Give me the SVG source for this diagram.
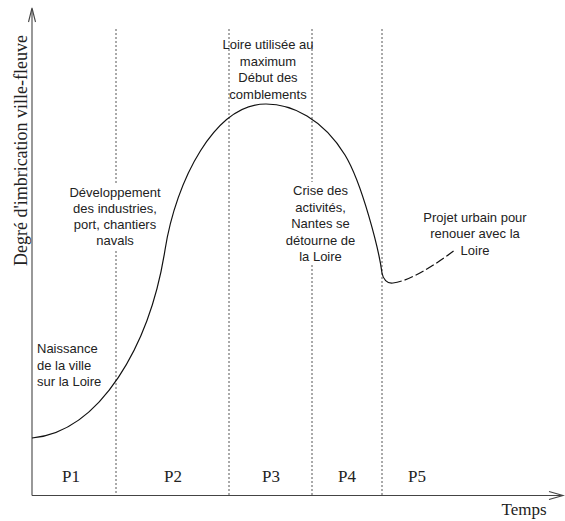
<svg xmlns="http://www.w3.org/2000/svg" width="565" height="521" viewBox="0 0 565 521">
<style>
.axis{stroke:#444;stroke-width:1.1;fill:none}
.head{stroke:#444;stroke-width:1.1;fill:none}
.div{stroke:#555;stroke-width:1;stroke-dasharray:2,2;fill:none}
.curve{stroke:#111;stroke-width:1.2;fill:none}
.dash{stroke:#111;stroke-width:1.2;fill:none;stroke-dasharray:9,3}
.lbl{font-family:"Liberation Sans",Arial,sans-serif;font-size:13px;fill:#222;text-anchor:middle}
.ser{font-family:"Liberation Serif","Times New Roman",serif;font-size:17px;fill:#222;text-anchor:middle}
</style>
<rect width="565" height="521" fill="#fff"/>
<g id="axes">
<line class="axis" x1="32" y1="495.5" x2="32" y2="9"/>
<polyline class="head" points="28.5,22 32,8 35.5,22"/>
<line class="axis" x1="32" y1="495.5" x2="562" y2="495.5"/>
<polyline class="head" points="549,491.5 563,495.5 549,499.5"/>
<text class="ser" transform="translate(27,150.5) rotate(-90)" style="font-size:18px">Degré d'imbrication ville-fleuve</text>
<text class="ser" x="524" y="515">Temps</text>
</g>
<g id="dividers">
<line class="div" x1="116" y1="29" x2="116" y2="183"/>
<line class="div" x1="116" y1="251" x2="116" y2="495"/>
<line class="div" x1="229" y1="29" x2="229" y2="495"/>
<line class="div" x1="312" y1="29" x2="312" y2="182"/>
<line class="div" x1="312" y1="265" x2="312" y2="495"/>
<line class="div" x1="382" y1="29" x2="382" y2="495"/>
</g>
<g id="periods">
<text class="ser" x="71" y="482">P1</text>
<text class="ser" x="173" y="482">P2</text>
<text class="ser" x="271" y="482">P3</text>
<text class="ser" x="347" y="482">P4</text>
<text class="ser" x="417" y="482">P5</text>
</g>
<g id="curve">
<path class="curve" d="M32,438 C100,432 150,345 165,250 C176,180 215,104 266,104 C292,104 323,119 345,155 C362,183 379,250 382,273 C383,279 387,284 393,283"/>
<path class="dash" d="M393,283 C410,281 435,265 455,250"/>
</g>
<g id="label-p1">
<text class="lbl" style="text-anchor:start" x="37" y="353">Naissance</text>
<text class="lbl" style="text-anchor:start" x="37" y="370">de la ville</text>
<text class="lbl" style="text-anchor:start" x="37" y="386">sur la Loire</text>
</g>
<g id="label-p2">
<text class="lbl" x="115" y="197">Développement</text>
<text class="lbl" x="115" y="213">des industries,</text>
<text class="lbl" x="115" y="229">port, chantiers</text>
<text class="lbl" x="115" y="245">navals</text>
</g>
<g id="label-p3">
<text class="lbl" x="268" y="49">Loire utilisée au</text>
<text class="lbl" x="268" y="65.5">maximum</text>
<text class="lbl" x="268" y="82">Début des</text>
<text class="lbl" x="268" y="98.5">comblements</text>
</g>
<g id="label-p4">
<text class="lbl" x="320.5" y="195">Crise des</text>
<text class="lbl" x="320.5" y="211.5">activités,</text>
<text class="lbl" x="320.5" y="228">Nantes se</text>
<text class="lbl" x="320.5" y="244.5">détourne de</text>
<text class="lbl" x="320.5" y="261">la Loire</text>
</g>
<g id="label-p5">
<text class="lbl" x="475" y="221.5">Projet urbain pour</text>
<text class="lbl" x="475" y="238">renouer avec la</text>
<text class="lbl" x="475" y="254.5">Loire</text>
</g>
</svg>
